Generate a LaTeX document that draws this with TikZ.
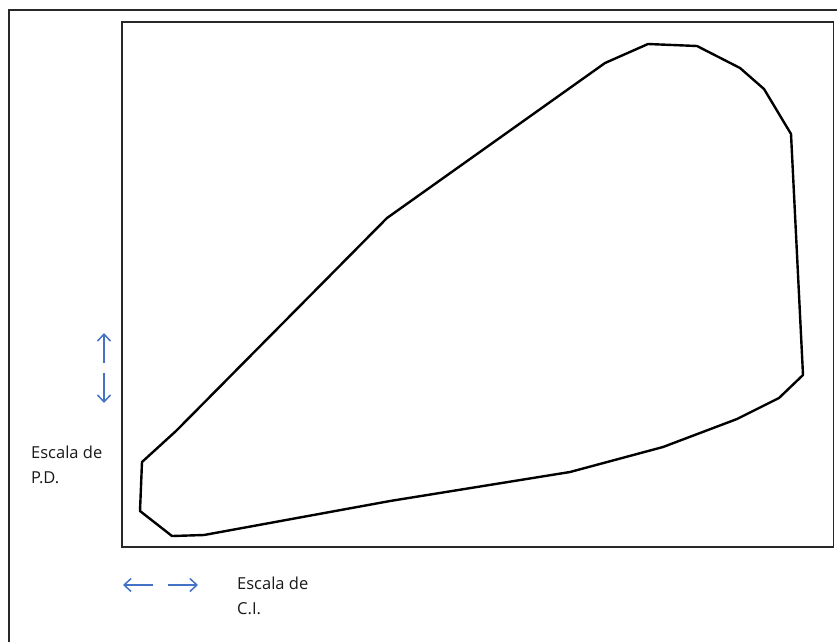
\documentclass[tikz,border=0pt]{standalone}
\usepackage{fontspec}
\setmainfont{Open Sans}
\usetikzlibrary{arrows.meta}
\definecolor{arrowblue}{RGB}{68,114,196}
\definecolor{framegray}{RGB}{40,40,40}
\tikzset{
  frame/.style={draw=framegray, line width=1.5pt},
  curve/.style={draw=black, line width=2.4pt, line join=round},
  scalearrow/.style={draw=arrowblue, line width=1.5pt, -{Straight Barb[length=7pt,width=13pt,line width=1.5pt]}},
  label/.style={align=left, anchor=west, inner sep=0pt, font=\fontsize{16.5}{25}\selectfont, text=black!90}
}
\begin{document}
\begin{tikzpicture}[x=1pt,y=-1pt]
\useasboundingbox (0,0) rectangle (837,641);
\begin{scope}
\clip (0,0) rectangle (837,641);
\draw[frame] (9,10) rectangle (850,660);
\end{scope}
\draw[frame] (122,22) rectangle (833.5,547);
\draw[curve] (142,462) -- (140,511) -- (172,536) -- (204,535) -- (390,501) -- (570,472) -- (663,447) -- (737,419) -- (779,398) -- (803,375) -- (791,134) -- (764,89) -- (740,68) -- (697,46) -- (648,44) -- (605,63) -- (387,218) -- (176,431) -- cycle;
\coordinate (ua0) at (104,363);
\coordinate (ua1) at (104,333);
\coordinate (da0) at (104,373);
\coordinate (da1) at (104,403);
\coordinate (la0) at (153,585);
\coordinate (la1) at (123,585);
\coordinate (ra0) at (168,585);
\coordinate (ra1) at (198,585);
\draw[scalearrow] (ua0) -- (ua1);
\draw[scalearrow] (da0) -- (da1);
\draw[scalearrow] (la0) -- (la1);
\draw[scalearrow] (ra0) -- (ra1);
\node[label] (pd) at (31,464.5) {Escala de\\P.D.};
\node[label] (ci) at (237,595.5) {Escala de\\C.I.};
\end{tikzpicture}
\end{document}
